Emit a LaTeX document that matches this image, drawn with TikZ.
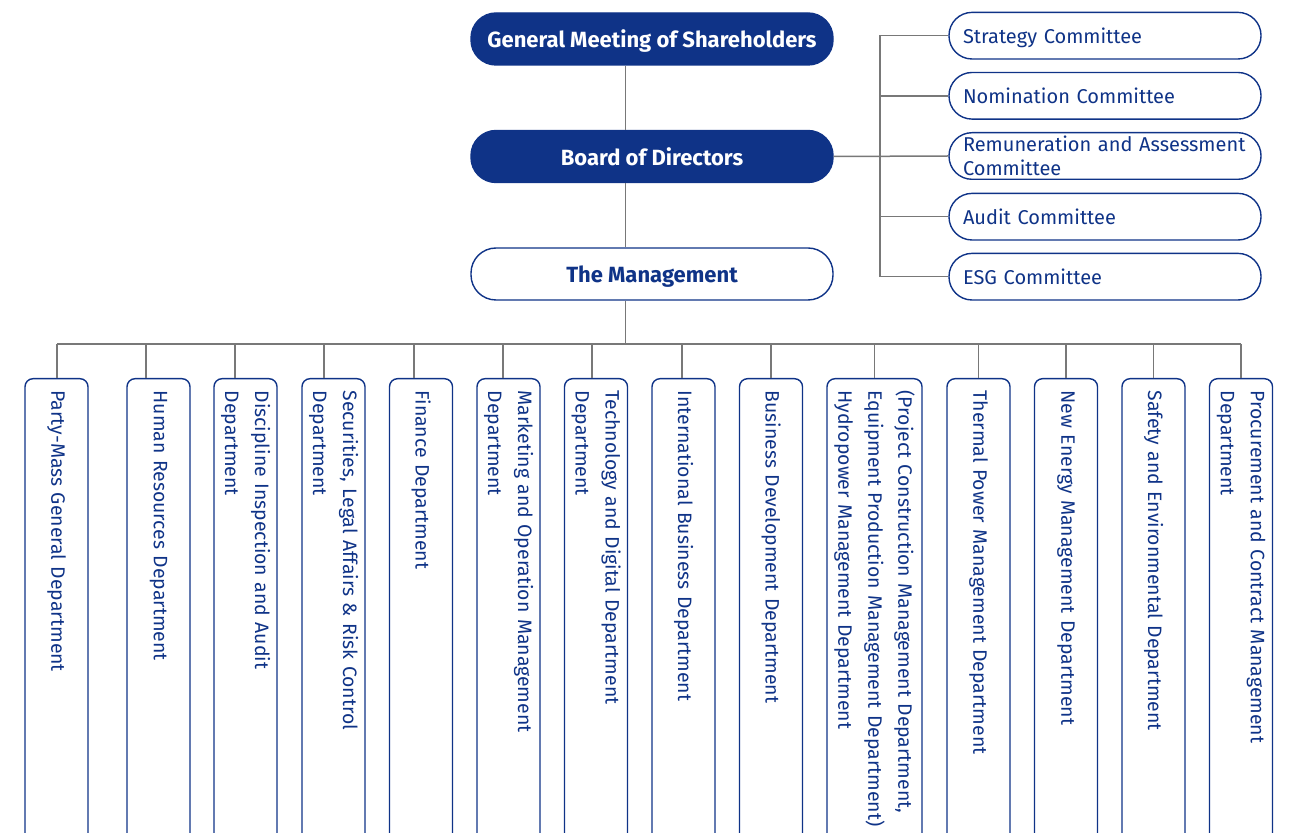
\documentclass[tikz,border=0pt]{standalone}
\usepackage{fontspec}
\setmainfont{Fira Sans}
\definecolor{navy}{RGB}{15,51,135}
\definecolor{wire}{RGB}{120,120,120}

\begin{document}
\begin{tikzpicture}[x=0.5pt, y=-0.5pt,
  head/.style={draw=navy, fill=navy, text=white, line width=0.7pt, rounded corners=12.5pt, minimum width=181pt, minimum height=26pt, inner sep=0pt, text depth=0pt, font=\bfseries\fontsize{11}{13}\selectfont},
  mgmt/.style={head, fill=white, text=navy},
  cmte/.style={draw=navy, line width=0.7pt, text=navy, rounded corners=11.5pt, minimum width=156pt, minimum height=23.3pt, text width=142pt, inner xsep=7pt, inner ysep=0pt, text depth=0pt, align=left, font=\fontsize{10}{12}\selectfont},
  dept/.style={draw=navy, line width=0.7pt, text=navy, rotate=-90, anchor=west, rounded corners=4pt, minimum width=261pt, minimum height=31.5pt, text width=249pt, inner xsep=6pt, inner ysep=2pt, align=left, font=\fontsize{9.7}{15}\selectfont},
  link/.style={draw=wire, line width=0.75pt}]
\path[use as bounding box] (0,0) rectangle (1294,833);
\clip (0,0) rectangle (1294,833);
\node[head] (gm) at (652,39) {General Meeting of Shareholders};
\node[head] (bd) at (652,156.5) {Board of Directors};
\node[mgmt] (mg) at (652,274) {The Management};
\node[cmte] (c1) at (1105,35.7) {Strategy Committee};
\node[cmte] (c2) at (1105,95.8) {Nomination Committee};
\node[cmte, text depth=] (c3) at (1105,156) {Remuneration and Assessment\\Committee};
\node[cmte] (c4) at (1105,216.7) {Audit Committee};
\node[cmte] (c5) at (1105,276.7) {ESG Committee};
\node[dept] (d1) at (56.5,378) {Party-Mass General Department};
\node[dept] (d2) at (158.5,378) {Human Resources Department};
\node[dept] (d3) at (245.5,378) {Discipline Inspection and Audit\\Department};
\node[dept] (d4) at (333.5,378) {Securities, Legal Affairs \& Risk Control\\Department};
\node[dept] (d5) at (421,378) {Finance Department};
\node[dept] (d6) at (508.5,378) {Marketing and Operation Management\\Department};
\node[dept] (d7) at (596,378) {Technology and Digital Department\\Department};
\node[dept] (d8) at (683.5,378) {International Business Department};
\node[dept] (d9) at (771,378) {Business Development Department};
\node[dept, minimum height=47.5pt] (d10) at (874.5,378) {(Project Construction Management Department,\\Equipment Production Management Department)\\Hydropower Management Department};
\node[dept] (d11) at (978.5,378) {Thermal Power Management Department};
\node[dept] (d12) at (1066,378) {New Energy Management Department};
\node[dept] (d13) at (1153.5,378) {Safety and Environmental Department};
\node[dept] (d14) at (1241,378) {Procurement and Contract Management\\Department};
\coordinate (trunk) at (625.5,344);
\coordinate (cbus) at (880,156);
\coordinate (p1) at (57,344);
\coordinate (p2) at (146,344);
\coordinate (p3) at (235,344);
\coordinate (p4) at (324,344);
\coordinate (p5) at (414,344);
\coordinate (p6) at (503,344);
\coordinate (p7) at (592,344);
\coordinate (p8) at (682,344);
\coordinate (p9) at (771,344);
\coordinate (p10) at (874.5,344);
\coordinate (p11) at (978.5,344);
\coordinate (p12) at (1066,344);
\coordinate (p13) at (1153.5,344);
\coordinate (p14) at (1241,344);
\path[link] (gm.south -| trunk) edge (bd.north -| trunk);
\path[link] (bd.south -| trunk) edge (mg.north -| trunk);
\path[link] (mg.south -| trunk) edge (trunk);
\path[link] (bd.east) edge (c3.west);
\draw[link] (c1.west) -- (c1.west -| cbus) -- (c5.west -| cbus) -- (c5.west);
\path[link] (c2.west -| cbus) edge (c2.west);
\path[link] (c4.west -| cbus) edge (c4.west);
\draw[link] (p1) -- (p14);
\path[link] (p1) edge (p1 |- d1.west);
\path[link] (p2) edge (p2 |- d2.west);
\path[link] (p3) edge (p3 |- d3.west);
\path[link] (p4) edge (p4 |- d4.west);
\path[link] (p5) edge (p5 |- d5.west);
\path[link] (p6) edge (p6 |- d6.west);
\path[link] (p7) edge (p7 |- d7.west);
\path[link] (p8) edge (p8 |- d8.west);
\path[link] (p9) edge (p9 |- d9.west);
\path[link] (p10) edge (p10 |- d10.west);
\path[link] (p11) edge (p11 |- d11.west);
\path[link] (p12) edge (p12 |- d12.west);
\path[link] (p13) edge (p13 |- d13.west);
\path[link] (p14) edge (p14 |- d14.west);
\end{tikzpicture}
\end{document}
